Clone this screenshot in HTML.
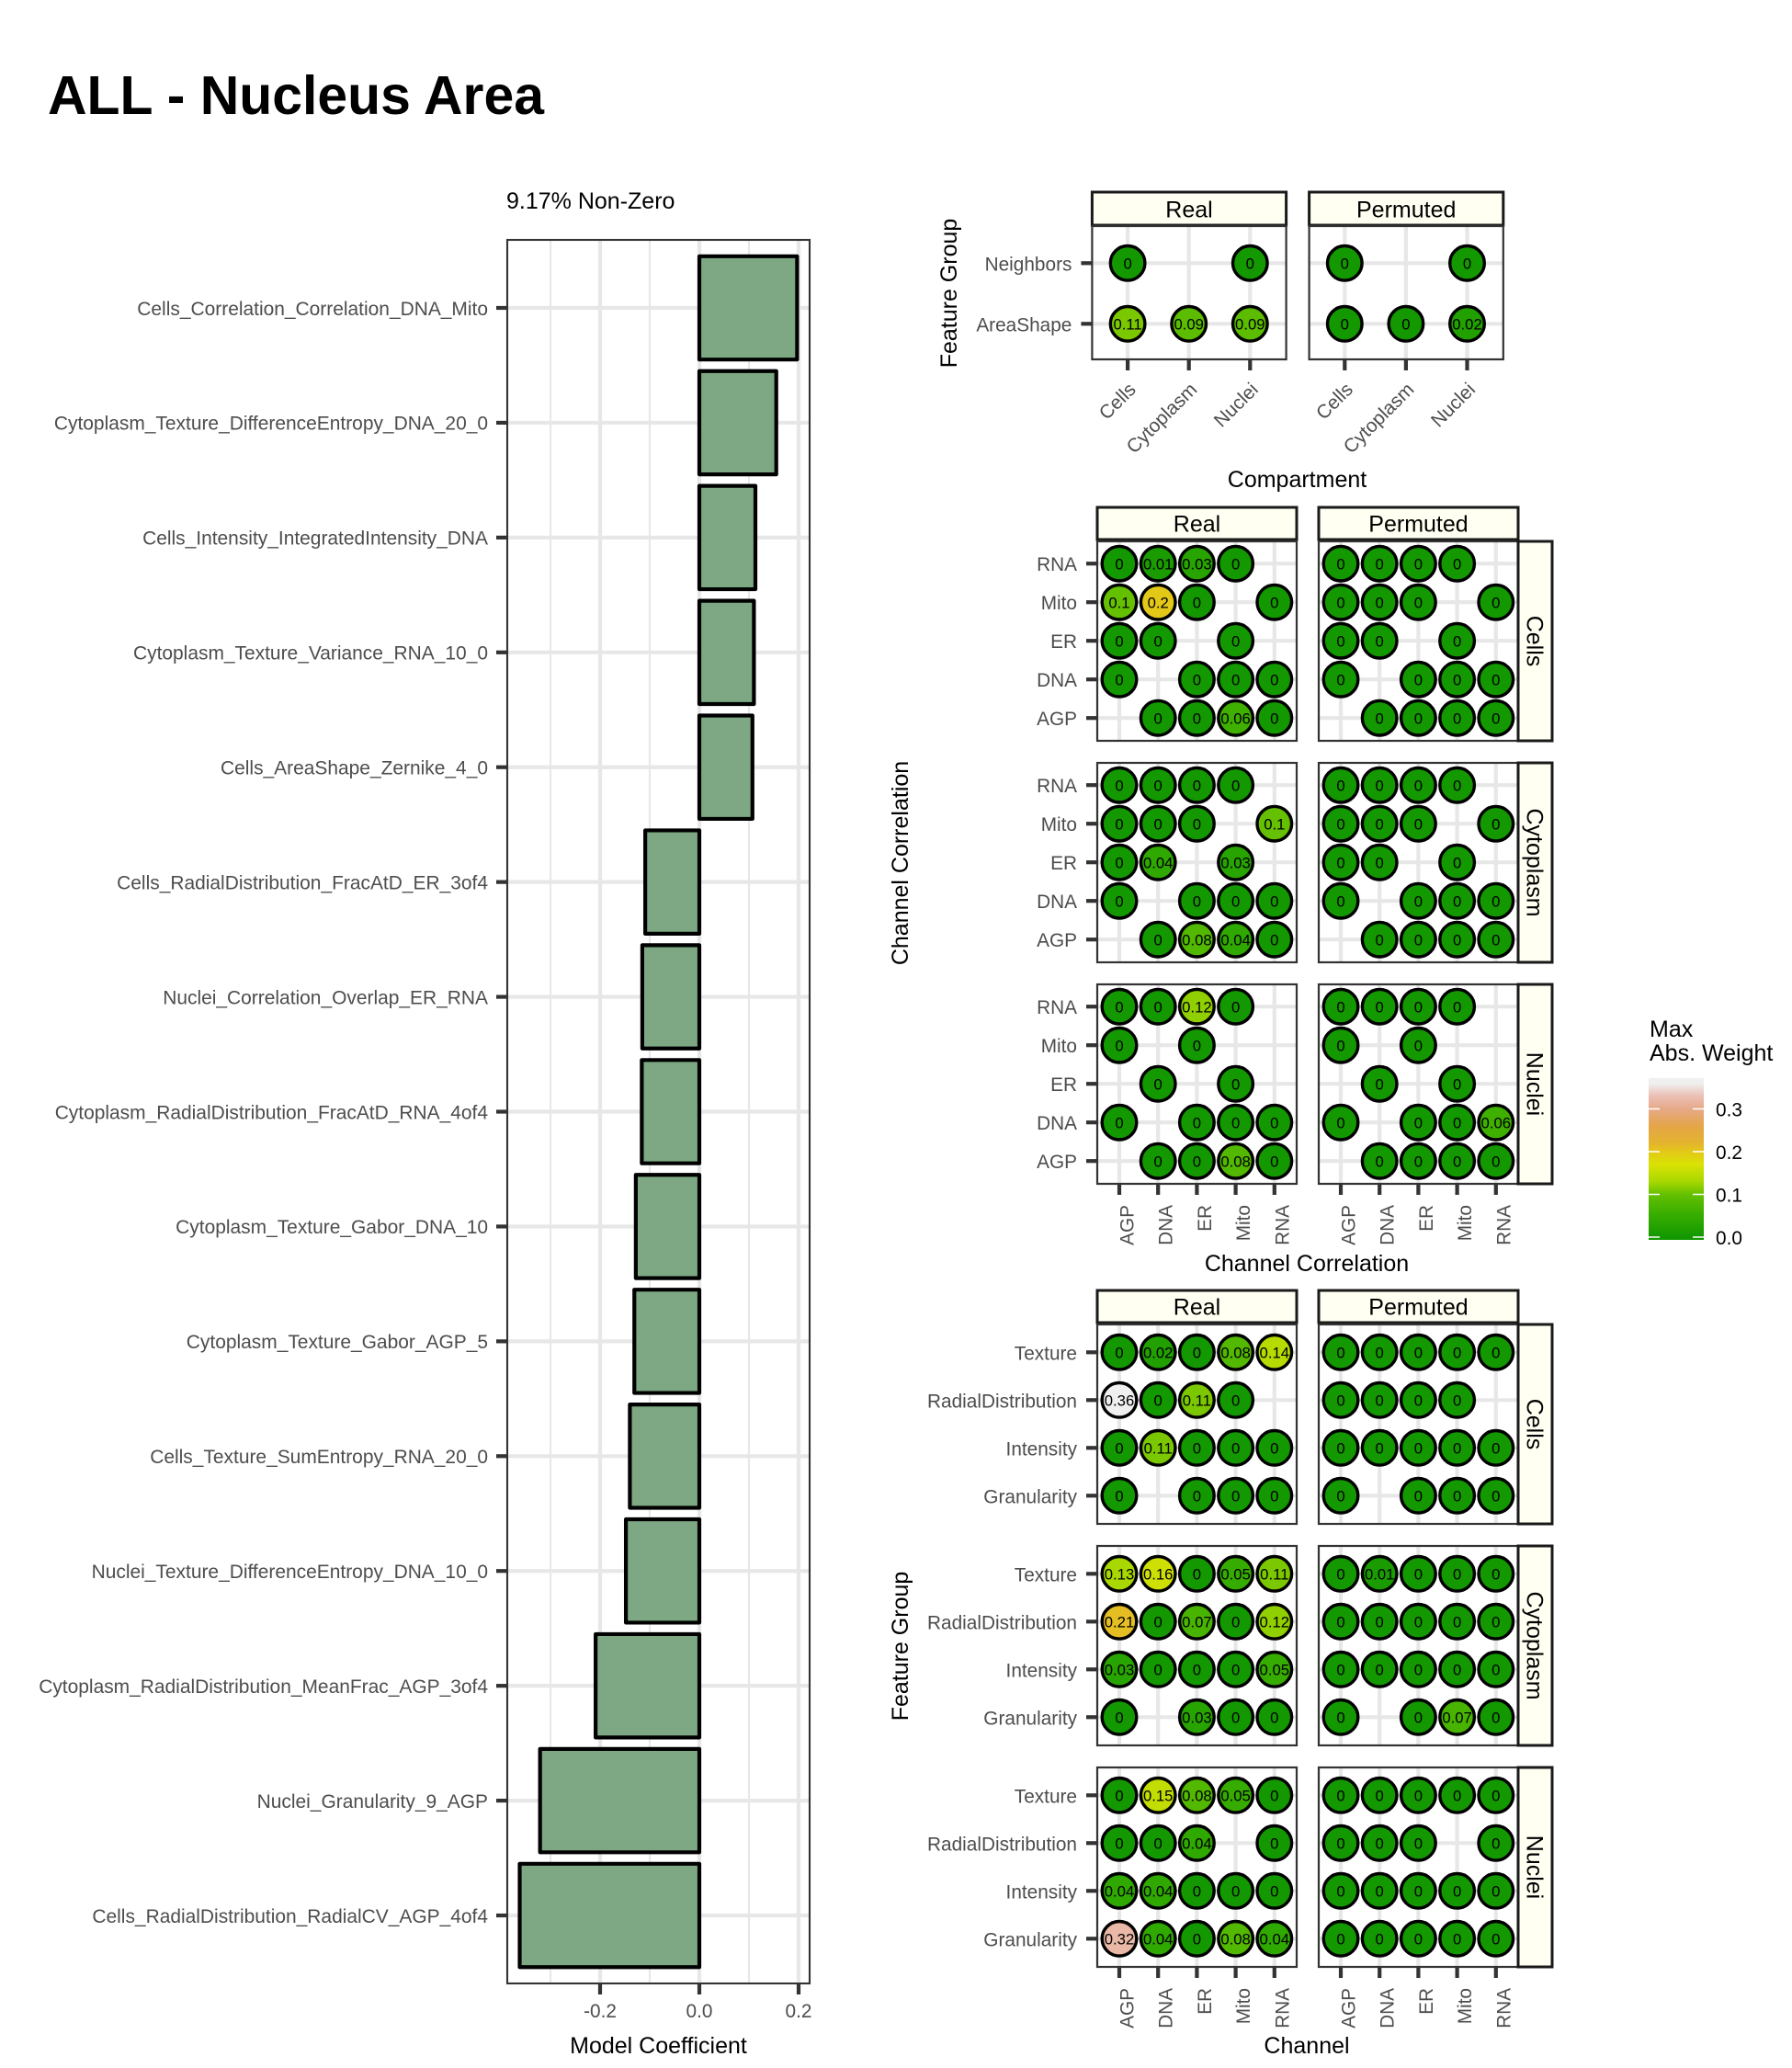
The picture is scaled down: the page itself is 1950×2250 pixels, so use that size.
<!DOCTYPE html>
<html lang="en">
<head>
<meta charset="utf-8">
<title>ALL - Nucleus Area</title>
<style>
html,body{margin:0;padding:0;background:#fff;}
svg{display:block;}
text{font-family:"Liberation Sans",Arial,sans-serif;}
</style>
</head>
<body>
<svg id="figure" xmlns="http://www.w3.org/2000/svg" width="1950" height="2250" viewBox="0 0 1950 2250">
  <rect x="0" y="0" width="1950" height="2250" fill="#ffffff"/>
  <text x="52" y="124" font-size="58.9" font-weight="700" fill="#000">ALL - Nucleus Area</text>
  <text x="551" y="227" font-size="25" fill="#000">9.17% Non-Zero</text>
  <g id="bar-chart"></g>
  <text x="716.5" y="2234" font-size="25" text-anchor="middle" fill="#000">Model Coefficient</text>
  <g id="dots"></g>
  <text x="1411.5" y="530" font-size="25" text-anchor="middle" fill="#000">Compartment</text>
  <text transform="translate(1041,319) rotate(-90)" font-size="25" text-anchor="middle" fill="#000">Feature Group</text>
  <text x="1422" y="1383" font-size="25" text-anchor="middle" fill="#000">Channel Correlation</text>
  <text transform="translate(988,939) rotate(-90)" font-size="25" text-anchor="middle" fill="#000">Channel Correlation</text>
  <text x="1422" y="2234" font-size="25" text-anchor="middle" fill="#000">Channel</text>
  <text transform="translate(988,1791) rotate(-90)" font-size="25" text-anchor="middle" fill="#000">Feature Group</text>
  <g id="legend">
    <text x="1795" y="1128" font-size="25" fill="#000">Max</text>
    <text x="1795" y="1154" font-size="25" fill="#000">Abs. Weight</text>
  </g>
</svg>
<script>
// ---------- bar chart data ----------
const barCategories = [
  "Cells_Correlation_Correlation_DNA_Mito",
  "Cytoplasm_Texture_DifferenceEntropy_DNA_20_0",
  "Cells_Intensity_IntegratedIntensity_DNA",
  "Cytoplasm_Texture_Variance_RNA_10_0",
  "Cells_AreaShape_Zernike_4_0",
  "Cells_RadialDistribution_FracAtD_ER_3of4",
  "Nuclei_Correlation_Overlap_ER_RNA",
  "Cytoplasm_RadialDistribution_FracAtD_RNA_4of4",
  "Cytoplasm_Texture_Gabor_DNA_10",
  "Cytoplasm_Texture_Gabor_AGP_5",
  "Cells_Texture_SumEntropy_RNA_20_0",
  "Nuclei_Texture_DifferenceEntropy_DNA_10_0",
  "Cytoplasm_RadialDistribution_MeanFrac_AGP_3of4",
  "Nuclei_Granularity_9_AGP",
  "Cells_RadialDistribution_RadialCV_AGP_4of4"
];
const barValues = [0.197,0.155,0.113,0.11,0.107,-0.109,-0.115,-0.116,-0.128,-0.131,-0.14,-0.148,-0.209,-0.321,-0.362];
const barMajorTicks = [-0.2,0,0.2];
const barMinorTicks = [-0.3,-0.1,0.1];

// ---------- dot plot data ----------
const facetLabels = ["Real","Permuted"];
const compartmentCategories = ["Cells","Cytoplasm","Nuclei"];
const compartmentRows = ["Neighbors","AreaShape"];
const compartmentReal = [[0,null,0],[0.11,0.09,0.09]];
const compartmentPermuted = [[0,null,0],[0,0,0.02]];

const channelCategories = ["AGP","DNA","ER","Mito","RNA"];
const correlationRows = ["RNA","Mito","ER","DNA","AGP"];
const correlationFacets = ["Cells","Cytoplasm","Nuclei"];
const correlationCellsReal = [[0,0.01,0.03,0,null],[0.1,0.2,0,null,0],[0,0,null,0,null],[0,null,0,0,0],[null,0,0,0.06,0]];
const correlationCellsPermuted = [[0,0,0,0,null],[0,0,0,null,0],[0,0,null,0,null],[0,null,0,0,0],[null,0,0,0,0]];
const correlationCytoplasmReal = [[0,0,0,0,null],[0,0,0,null,0.1],[0,0.04,null,0.03,null],[0,null,0,0,0],[null,0,0.08,0.04,0]];
const correlationCytoplasmPermuted = [[0,0,0,0,null],[0,0,0,null,0],[0,0,null,0,null],[0,null,0,0,0],[null,0,0,0,0]];
const correlationNucleiReal = [[0,0,0.12,0,null],[0,null,0,null,null],[null,0,null,0,null],[0,null,0,0,0],[null,0,0,0.08,0]];
const correlationNucleiPermuted = [[0,0,0,0,null],[0,null,0,null,null],[null,0,null,0,null],[0,null,0,0,0.06],[null,0,0,0,0]];

const featureRows = ["Texture","RadialDistribution","Intensity","Granularity"];
const featureCellsReal = [[0,0.02,0,0.08,0.14],[0.36,0,0.11,0,null],[0,0.11,0,0,0],[0,null,0,0,0]];
const featureCellsPermuted = [[0,0,0,0,0],[0,0,0,0,null],[0,0,0,0,0],[0,null,0,0,0]];
const featureCytoplasmReal = [[0.13,0.16,0,0.05,0.11],[0.21,0,0.07,0,0.12],[0.03,0,0,0,0.05],[0,null,0.03,0,0]];
const featureCytoplasmPermuted = [[0,0.01,0,0,0],[0,0,0,0,0],[0,0,0,0,0],[0,null,0,0.07,0]];
const featureNucleiReal = [[0,0.15,0.08,0.05,0],[0,0,0.04,null,0],[0.04,0.04,0,0,0],[0.32,0.04,0,0.08,0.04]];
const featureNucleiPermuted = [[0,0,0,0,0],[0,0,0,null,0],[0,0,0,0,0],[0,0,0,0,0]];

// ---------- colour legend ----------
const legendTicks = [0,0.1,0.2,0.3];
const colorDomain = [0,0.05,0.1,0.13,0.17,0.2,0.22,0.26,0.3,0.33,0.36,0.372];
const colorRange = ["#139800","#36ac00","#64c000","#a8d800","#dae204","#e4c818","#e4b42e","#e4a548","#e6a988","#ebc0b5","#efefef","#f0f0f0"];

const NS = "http://www.w3.org/2000/svg";
function make(tag, parent, attrs, content) {
  const el = document.createElementNS(NS, tag);
  for (const k in attrs) el.setAttribute(k, attrs[k]);
  if (content !== undefined) el.textContent = content;
  parent.appendChild(el);
  return el;
}
function hexToRgb(h){return [parseInt(h.substr(1,2),16),parseInt(h.substr(3,2),16),parseInt(h.substr(5,2),16)];}
function colorScale(v){
  for (let i=1;i<colorDomain.length;i++){
    if (v<=colorDomain[i]){
      const t=(v-colorDomain[i-1])/(colorDomain[i]-colorDomain[i-1]);
      const a=hexToRgb(colorRange[i-1]),b=hexToRgb(colorRange[i]);
      return "rgb("+a.map((c,j)=>Math.round(c+(b[j]-c)*Math.max(0,t))).join(",")+")";
    }
  }
  return colorRange[colorRange.length-1];
}
const GRID="#e7e7e7", BORDER="#333333", TICK="#333333", LABEL="#4d4d4d", STRIP="#fffff2";

// ---------- bar chart ----------
(function(){
  const g=document.getElementById("bar-chart");
  const left=552,right=881,top=261,bottom=2158;
  const xBar=v=>761+v*540;
  const yBar=i=>335+i*124.93;
  const bandH=112.4;
  barMinorTicks.forEach(t=>{
    const el=make("line",g,{x1:xBar(t),x2:xBar(t),y1:top,y2:bottom,stroke:GRID,"stroke-width":2.1});
    
    
  });
  barMajorTicks.forEach(t=>{
    const el=make("line",g,{x1:xBar(t),x2:xBar(t),y1:top,y2:bottom,stroke:GRID,"stroke-width":4.2});
    
    
  });
  barCategories.forEach((c,i)=>{
    const el=make("line",g,{x1:left,x2:right,y1:yBar(i),y2:yBar(i),stroke:GRID,"stroke-width":4.2});
    
    
  });
  barValues.forEach((v,i)=>{
    const x0=xBar(Math.min(v,0)),x1=xBar(Math.max(v,0));
    const el=make("rect",g,{x:x0,y:yBar(i)-bandH/2,width:x1-x0,height:bandH,fill:"#7da883",stroke:"#000","stroke-width":4.2,"stroke-linejoin":"round"});
    
    
  });
  const frame=make("rect",g,{x:left,y:top,width:right-left,height:bottom-top,fill:"none",stroke:BORDER,"stroke-width":2.1});
  
  
  barCategories.forEach((c,i)=>{
    const t=make("line",g,{x1:540,x2:left,y1:yBar(i),y2:yBar(i),stroke:TICK,"stroke-width":4.2});
    
    
    const l=make("text",g,{x:531,y:yBar(i)+7.8,"font-size":20.95,"text-anchor":"end",fill:LABEL},c);
    
    
  });
  barMajorTicks.forEach(v=>{
    const t=make("line",g,{x1:xBar(v),x2:xBar(v),y1:bottom,y2:bottom+12,stroke:TICK,"stroke-width":4.2});
    
    
    const l=make("text",g,{x:xBar(v),y:2195,"font-size":20.8,"text-anchor":"middle",fill:LABEL},v.toFixed(1));
    
    
  });
})();

// ---------- dot facets ----------
const dotsRoot=document.getElementById("dots");

function drawStripTop(x0,x1,y0,y1,label,baseOffset){
  const r=make("rect",dotsRoot,{x:x0,y:y0,width:x1-x0,height:y1-y0,fill:STRIP,stroke:"#1a1a1a","stroke-width":3});
  
  
  const t=make("text",dotsRoot,{x:(x0+x1)/2,y:(y0+y1)/2+baseOffset,"font-size":25,"text-anchor":"middle",fill:"#000"},label);
  
  
}
function drawStripRight(x0,x1,y0,y1,label){
  const r=make("rect",dotsRoot,{x:x0,y:y0,width:x1-x0,height:y1-y0,fill:STRIP,stroke:"#1a1a1a","stroke-width":3});
  
  
  const t=make("text",dotsRoot,{transform:"translate("+(x0+9.4)+","+((y0+y1)/2)+") rotate(90)","font-size":25,"text-anchor":"middle",fill:"#000"},label);
  
  
}
function drawPanel(box,xPos,yPos,values,options){
  const g=make("g",dotsRoot,{});
  
  
  xPos.forEach(x=>{
    const el=make("line",g,{x1:x,x2:x,y1:box.top,y2:box.bottom,stroke:GRID,"stroke-width":4.2});
    
    
  });
  yPos.forEach(y=>{
    const el=make("line",g,{x1:box.left,x2:box.right,y1:y,y2:y,stroke:GRID,"stroke-width":4.2});
    
    
  });
  const frame=make("rect",g,{x:box.left,y:box.top,width:box.right-box.left,height:box.bottom-box.top,fill:"none",stroke:BORDER,"stroke-width":2.2});
  
  
  values.forEach((row,r)=>{
    row.forEach((v,c)=>{
      if(v===null) return;
      const dot=make("circle",g,{cx:xPos[c],cy:yPos[r],r:18.8,fill:colorScale(v),stroke:"#000","stroke-width":3.4});
      
      
      const t=make("text",g,{x:xPos[c],y:yPos[r]+6.3,"font-size":16.7,"text-anchor":"middle",fill:"#000"},String(v));
      
      
    });
  });
  if(options.yLabels){
    yPos.forEach((y,i)=>{
      const tk=make("line",g,{x1:box.left-12,x2:box.left,y1:y,y2:y,stroke:TICK,"stroke-width":4.2});
      
      
      const l=make("text",g,{x:box.left-22,y:y+8,"font-size":20.8,"text-anchor":"end",fill:LABEL},options.yLabels[i]);
      
      
    });
  }
  if(options.xLabels){
    xPos.forEach((x,i)=>{
      const tk=make("line",g,{x1:x,x2:x,y1:box.bottom,y2:box.bottom+12,stroke:TICK,"stroke-width":4.2});
      
      
      const px=options.rotate===45? x+10 : x+15.5;
      const py=options.rotate===45? box.bottom+34 : box.bottom+23;
      const l=make("text",g,{transform:"translate("+px+","+py+") rotate(-"+options.rotate+")","font-size":20.8,"text-anchor":"end",fill:LABEL},options.xLabels[i]);
      
      
    });
  }
}

// Position scales for each dot-plot group
const compartmentX=(left,i)=>left+38.7+i*66.6;
const compartmentY=i=>286.3+i*66;
const channelX=(left,i)=>left+24+i*42.2;
const correlationY=(top,i)=>top+24.2+i*42;
const featureY=(top,i)=>top+30.3+i*52;

// Compartment group
[compartmentReal,compartmentPermuted].forEach((vals,f)=>{
  const left=[1188.4,1424.6][f];
  const right=left+211.2;
  drawStripTop(left,right,209,245,facetLabels[f],9.7);
  drawPanel({left:left,right:right,top:246,bottom:391},
    compartmentCategories.map((c,i)=>compartmentX(left,i)),
    compartmentRows.map((c,i)=>compartmentY(i)),
    vals,
    {yLabels:f===0?compartmentRows:null,xLabels:compartmentCategories,rotate:45});
});

// Channel correlation group
const correlationPanels=[[correlationCellsReal,correlationCellsPermuted],[correlationCytoplasmReal,correlationCytoplasmPermuted],[correlationNucleiReal,correlationNucleiPermuted]];
[0,1].forEach(f=>{
  const left=[1194,1435][f];
  drawStripTop(left,left+217,552,587,facetLabels[f],8.8);
});
correlationPanels.forEach((pair,rowIdx)=>{
  const top=589+rowIdx*241;
  pair.forEach((vals,f)=>{
    const left=[1194,1435][f];
    drawPanel({left:left,right:left+217,top:top,bottom:top+217},
      channelCategories.map((c,i)=>channelX(left,i)),
      correlationRows.map((c,i)=>correlationY(top,i)),
      vals,
      {yLabels:f===0?correlationRows:null,xLabels:rowIdx===2?channelCategories:null,rotate:90});
  });
  drawStripRight(1652,1689,top,top+217,correlationFacets[rowIdx]);
});

// Channel / feature group
const featurePanels=[[featureCellsReal,featureCellsPermuted],[featureCytoplasmReal,featureCytoplasmPermuted],[featureNucleiReal,featureNucleiPermuted]];
[0,1].forEach(f=>{
  const left=[1194,1435][f];
  drawStripTop(left,left+217,1404,1439,facetLabels[f],8.8);
});
featurePanels.forEach((pair,rowIdx)=>{
  const top=1441+rowIdx*241;
  pair.forEach((vals,f)=>{
    const left=[1194,1435][f];
    drawPanel({left:left,right:left+217,top:top,bottom:top+217},
      channelCategories.map((c,i)=>channelX(left,i)),
      featureRows.map((c,i)=>featureY(top,i)),
      vals,
      {yLabels:f===0?featureRows:null,xLabels:rowIdx===2?channelCategories:null,rotate:90});
  });
  drawStripRight(1652,1689,top,top+217,correlationFacets[rowIdx]);
});

// ---------- legend ----------
(function(){
  const g=document.getElementById("legend");
  const x0=1794,x1=1854,yTop=1173,yBot=1349;
  const yLegend=v=>1346-v*465;
  const defs=make("defs",g,{});
  const grad=make("linearGradient",defs,{id:"legend-gradient",x1:0,y1:1,x2:0,y2:0});
  const vMin=(1346-yBot)/465,vMax=(1346-yTop)/465;
  colorDomain.forEach((d,i)=>{
    make("stop",grad,{offset:Math.max(0,(d-vMin)/(vMax-vMin)),"stop-color":colorRange[i]});
  });
  const bar=make("rect",g,{x:x0,y:yTop,width:x1-x0,height:yBot-yTop,fill:"url(#legend-gradient)"});
  
  
  legendTicks.forEach(v=>{
    const a=make("line",g,{x1:x0,x2:x0+12,y1:yLegend(v),y2:yLegend(v),stroke:"#fff","stroke-width":1.5});
    
    
    const b=make("line",g,{x1:x1-12,x2:x1,y1:yLegend(v),y2:yLegend(v),stroke:"#fff","stroke-width":1.5});
    
    
    const l=make("text",g,{x:1867,y:yLegend(v)+8,"font-size":20.8,fill:"#000"},v.toFixed(1));
    
    
  });
})();
</script>
</body>
</html>
